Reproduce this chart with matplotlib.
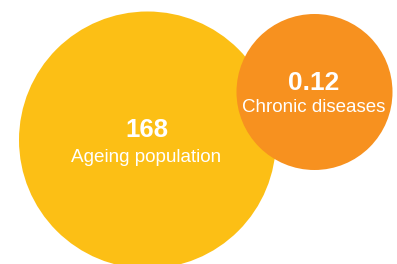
import matplotlib
matplotlib.use("Agg")
import matplotlib.pyplot as plt
from matplotlib.patches import Circle

# data
labels = ["Ageing population", "Chronic diseases"]
values = ["168", "0.12"]
colors = ["#FCBF15", "#F7911F"]

# layout (pixel space of a 397x264 canvas)
centers = [(147.5, 140), (314.5, 92)]
radii = [128.5, 78]

plt.rcParams['font.family'] = ['Liberation Sans', 'DejaVu Sans']

fig = plt.figure(figsize=(3.97, 2.64), dpi=100)
ax = fig.add_axes([0, 0, 1, 1])
ax.set_xlim(0, 397)
ax.set_ylim(264, 0)
ax.set_aspect('equal')
ax.axis('off')

for i in range(len(labels)):
    cx, cy = centers[i]
    ax.add_patch(Circle((cx, cy), radii[i], color=colors[i], lw=0, zorder=i + 1))

# value + label text
ax.text(146.5, 130, values[0], ha='center', va='center', color='white',
        fontsize=18.5, fontweight='bold', zorder=5)
ax.text(146.5, 157, labels[0], ha='center', va='center', color='white',
        fontsize=13.6, zorder=5)
ax.text(314, 82.5, values[1], ha='center', va='center', color='white',
        fontsize=19, fontweight='bold', zorder=5)
ax.text(314, 107, labels[1], ha='center', va='center', color='white',
        fontsize=13.5, zorder=5)

fig.savefig("out.png", dpi=100)
